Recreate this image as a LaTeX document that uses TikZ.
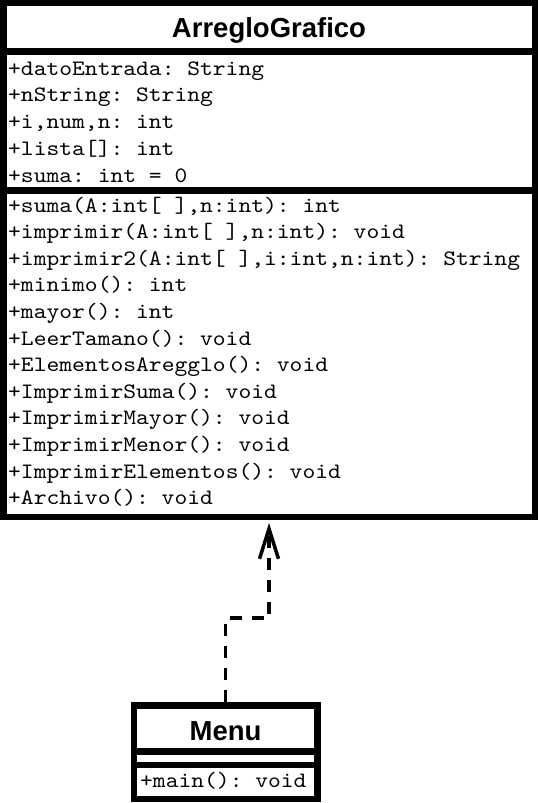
\documentclass[tikz,border=0pt]{standalone}
\usepackage{fontspec}
\setmonofont{lmmono10-regular.otf}[FakeStretch=1.108]
\newfontfamily\titlefont{Liberation Sans}
\usetikzlibrary{arrows.meta}
\tikzset{
  box/.style={draw=black, line width=6.5pt, fill=white, inner sep=0pt},
  sepline/.style={line width=7pt},
  member/.style={anchor=base west, inner sep=0pt, font=\ttfamily\fontsize{22}{26}\selectfont},
  ttl/.style={anchor=base, inner sep=0pt, font=\titlefont\bfseries\fontsize{27.5}{30}\selectfont},
  dep/.style={line width=3.5pt, dash pattern=on 12pt off 10pt, shorten >=3pt,
    -{Straight Barb[length=30pt,width=19pt]}}
}
\begin{document}
\begin{tikzpicture}[x=1pt,y=-1pt]
\useasboundingbox (0,0) rectangle (539,803);
% ArregloGrafico class
\node[box, minimum width=531.5pt, minimum height=513.75pt] (AG) at (269,259.875) {};
\draw[sepline] (3.25,51) -- (534.75,51);
\draw[sepline, line width=6.5pt] (3.25,190.5) -- (534.75,190.5);
\node[ttl] (agname) at (269,37.5) {ArregloGrafico};
\foreach [count=\k from 0] \t in {{+datoEntrada: String},{+nString: String},{+i,num,n: int},{+lista[]: int},{+suma: int = 0}}
  \node[member] (attr\k) at (8,75+26.75*\k) {\t};
\foreach [count=\k from 0] \t in {{+suma(A:int[ ],n:int): int},{+imprimir(A:int[ ],n:int): void},{+imprimir2(A:int[ ],i:int,n:int): String},{+minimo(): int},{+mayor(): int},{+LeerTamano(): void},{+ElementosAregglo(): void},{+ImprimirSuma(): void},{+ImprimirMayor(): void},{+ImprimirMenor(): void},{+ImprimirElementos(): void},{+Archivo(): void}}
  \node[member] (meth\k) at (8,212+26.6*\k) {\t};
% Menu class
\node[box, minimum width=183.5pt, minimum height=93.5pt] (M) at (225.5,752) {};
\draw[sepline] (133.75,751.5) -- (317.25,751.5);
\draw[sepline, line width=6.5pt] (133.75,765) -- (317.25,765);
\node[ttl] (mname) at (225.5,740) {Menu};
\node[member] (mmain) at (140,787) {+main(): void};
% dependency
\draw[dep] (M.north) -- ++(0,-84) -| (AG.south);
\end{tikzpicture}
\end{document}
